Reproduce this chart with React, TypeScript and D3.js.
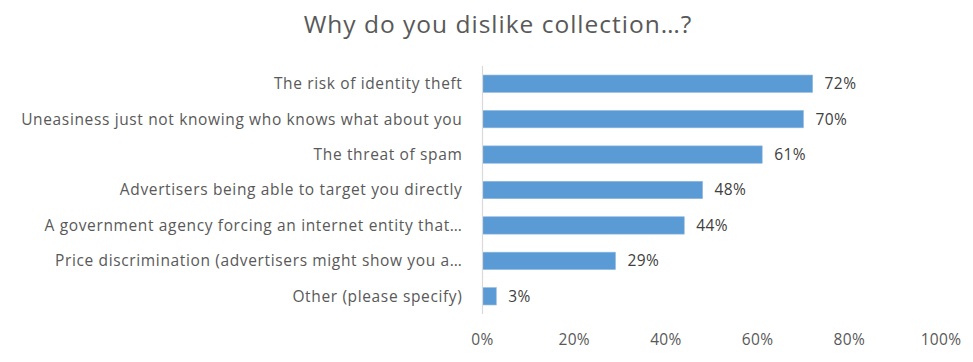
import React from "react";
import * as d3 from "d3";

const categories = [
  "The risk of identity theft",
  "Uneasiness just not knowing who knows what about you",
  "The threat of spam",
  "Advertisers being able to target you directly",
  "A government agency forcing an internet entity that…",
  "Price discrimination (advertisers might show you a…",
  "Other (please specify)",
];
const values = [72, 70, 61, 48, 44, 29, 3];
const ticks = [0, 20, 40, 60, 80, 100];
const title = "Why do you dislike collection…?";

const W = 973;
const H = 362;
const FONT = "'Open Sans', Lato, sans-serif";

export default function App() {
  const x = d3.scaleLinear().domain([0, 100]).range([482.5, 941]);
  const y = d3.scaleBand<string>().domain(categories).range([66, 314]).paddingInner(0.51).paddingOuter(0.255);
  return (
    <svg width={W} height={H} style={{ position: "absolute", left: 0, top: 0, background: "#fff" }}>
      <text x={498} y={33} textAnchor="middle" fontFamily={FONT} fontSize={24.5} letterSpacing={1.0} fill="#595959">
        {title}
      </text>
      {categories.map((c, i) => (
        <g key={c}>
          <rect
            x={x(0)}
            y={y(c)!}
            width={x(values[i]) - x(0)}
            height={y.bandwidth()}
            fill="#5b9bd5"
            stroke="#8fb8e0"
            strokeWidth={0.6}
          />
          <text
            x={462.5}
            y={y(c)! + y.bandwidth() / 2}
            dy="0.35em"
            textAnchor="end"
            fontFamily={FONT}
            fontSize={15.5}
            letterSpacing={0.64}
            fill="#595959"
          >
            {c}
          </text>
          <text
            x={x(values[i]) + 12}
            y={y(c)! + y.bandwidth() / 2}
            dy="0.35em"
            textAnchor="start"
            fontFamily={FONT}
            fontSize={15.5}
            letterSpacing={0.4}
            fill="#404040"
          >
            {values[i]}%
          </text>
        </g>
      ))}
      <line x1={x(0)} x2={x(0)} y1={66} y2={314} stroke="#d9d9d9" strokeWidth={1.2} />
      {ticks.map((t) => (
        <text key={t} x={x(t)} y={345} textAnchor="middle" fontFamily={FONT} fontSize={15.5} letterSpacing={0.3} fill="#595959">
          {t}%
        </text>
      ))}
    </svg>
  );
}
